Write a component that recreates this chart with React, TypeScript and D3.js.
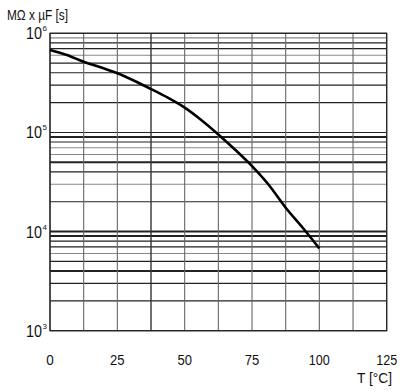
import React, { useEffect, useRef } from "react";
import * as d3 from "d3";

// temperature [°C] vs. time constant [MΩ x µF = s]
const temps = [0, 6.25, 12.5, 18.75, 25, 31.25, 37.5, 43.75, 50, 56.25, 62.5, 68.75, 75, 81.25, 87.5, 93.75, 100];
const tau = [678000, 604000, 517000, 454000, 395000, 332000, 274000, 224000, 178000, 133000, 95500, 66800, 45700, 29500, 17400, 11000, 6760];

const xTicks = [0, 25, 50, 75, 100, 125];
const xGrid = d3.range(0, 125.01, 12.5);
const decades = [3, 4, 5, 6];

const width = 400;
const height = 392;
const margin = { top: 33.3, right: 13.3, bottom: 61.3, left: 50 };
const font = "'Liberation Sans', Arial, sans-serif";

function App() {
  const svgRef = useRef<SVGSVGElement>(null);

  useEffect(() => {
    if (!svgRef.current) return;
    const svg = d3.select(svgRef.current);
    svg.selectAll("*").remove();

    const x = d3.scaleLinear().domain([0, 125]).range([margin.left, width - margin.right]);
    const y = d3.scaleLog().domain([1e3, 1e6]).range([height - margin.bottom, margin.top]);

    // horizontal log grid
    const hLines: number[] = [];
    for (let e = 3; e < 6; e++) {
      for (let m = 1; m < 10; m++) hLines.push(m * Math.pow(10, e));
    }
    hLines.push(1e6);
    const thick = new Set([1e4, 4e3, 9e4, 5e4, 9e3]);
    const light = new Set([6e5, 9e5, 6e4, 7e4, 3e4, 6e3]);

    svg
      .append("g")
      .selectAll("line")
      .data(hLines)
      .enter()
      .append("line")
      .attr("x1", x(0))
      .attr("x2", x(125))
      .attr("y1", (d) => y(d))
      .attr("y2", (d) => y(d))
      .attr("stroke", (d) => (light.has(d) ? "#888" : "#222"))
      .attr("stroke-width", (d) => (thick.has(d) ? 2 : 1.1));

    // vertical grid
    svg
      .append("g")
      .selectAll("line")
      .data(xGrid)
      .enter()
      .append("line")
      .attr("x1", (d) => x(d))
      .attr("x2", (d) => x(d))
      .attr("y1", y(1e6))
      .attr("y2", y(1e3))
      .attr("stroke", (d) => (d === 37.5 || d === 0 ? "#333" : "#666"))
      .attr("stroke-width", (d) => (d === 37.5 ? 1.4 : 1.1));

    // frame
    svg
      .append("rect")
      .attr("x", x(0))
      .attr("y", y(1e6))
      .attr("width", x(125) - x(0))
      .attr("height", y(1e3) - y(1e6))
      .attr("fill", "none")
      .attr("stroke", "#222")
      .attr("stroke-width", 1.2);

    // curve
    const line = d3
      .line<number>()
      .x((_, i) => x(temps[i]))
      .y((d) => y(d))
      .curve(d3.curveMonotoneX);

    svg
      .append("path")
      .datum(tau)
      .attr("d", line)
      .attr("fill", "none")
      .attr("stroke", "#000")
      .attr("stroke-width", 2.6);

    // y labels 10^n
    const yl = svg.append("g").style("font-family", font).attr("fill", "#111");
    decades.forEach((e) => {
      const yy = y(Math.pow(10, e));
      yl.append("text")
        .attr("x", 42)
        .attr("y", yy + 6)
        .attr("text-anchor", "end")
        .style("font-size", "16px")
        .attr("textLength", 16)
        .attr("lengthAdjust", "spacingAndGlyphs")
        .text("10");
      yl.append("text")
        .attr("x", 42.5)
        .attr("y", yy - 2)
        .style("font-size", "8px")
        .text(String(e));
    });

    // x labels
    svg
      .append("g")
      .style("font-family", font)
      .attr("fill", "#111")
      .selectAll("text")
      .data(xTicks)
      .enter()
      .append("text")
      .attr("x", (d) => x(d))
      .attr("y", 365)
      .attr("text-anchor", "middle")
      .style("font-size", "15px")
      .attr("textLength", (d) => (d >= 100 ? 21 : d >= 10 ? 14.5 : 7.5))
      .attr("lengthAdjust", "spacingAndGlyphs")
      .text((d) => String(d));

    svg
      .append("text")
      .attr("x", 357)
      .attr("y", 383)
      .style("font-family", font)
      .style("font-size", "15px")
      .attr("fill", "#111")
      .attr("textLength", 35)
      .attr("lengthAdjust", "spacingAndGlyphs")
      .text("T  [°C]");

    svg
      .append("text")
      .attr("x", 7)
      .attr("y", 20)
      .style("font-family", font)
      .style("font-size", "15px")
      .attr("fill", "#111")
      .attr("textLength", 61)
      .attr("lengthAdjust", "spacingAndGlyphs")
      .text("MΩ x µF [s]");
  }, []);

  return (
    <svg
      ref={svgRef}
      width={width}
      height={height}
      style={{ position: "absolute", left: 0, top: 0, background: "#fff" }}
    ></svg>
  );
}

export default App;
